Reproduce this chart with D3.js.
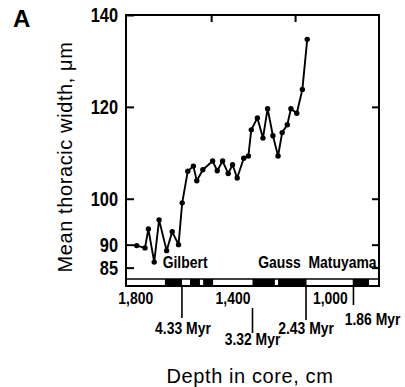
<!DOCTYPE html>
<html>
<head>
<meta charset="utf-8">
<script src="https://cdn.jsdelivr.net/npm/d3@7"></script>
<style>
  html, body { margin: 0; padding: 0; background: #fff; }
  svg { display: block; }
  .narrow { font-family: "Liberation Sans", Arial, sans-serif; font-weight: bold; }
  .title { font-family: "Liberation Sans", Arial, Helvetica, sans-serif; font-size: 20px; letter-spacing: 0.6px; }
</style>
</head>
<body>
<div id="chart"></div>
<script>
// Data
const depthCm = [1796, 1762, 1748, 1724, 1704, 1673, 1650, 1624, 1609, 1586, 1563, 1549,
  1524, 1484, 1465, 1443, 1420, 1402, 1383, 1356, 1337, 1325, 1300, 1277, 1258, 1236,
  1215, 1198, 1177, 1162, 1138, 1115, 1095];
const thoracicWidth = [89.8, 89.3, 93.4, 86.2, 95.4, 88.7, 92.8, 90.0, 99.1, 106.0, 107.1, 103.9,
  106.3, 108.2, 106.1, 108.2, 105.5, 107.4, 104.5, 108.8, 109.3, 115.0, 117.6, 113.2, 119.6, 113.7,
  109.3, 114.4, 116.1, 119.6, 118.6, 123.8, 134.7];

const yTicks = [85, 90, 100, 120, 140];
const depthTicks = [1800, 1400, 1000];
const topTicks = [1490, 1145];

// normal polarity intervals (black in the bar), [from, to] in cm
const normalChrons = [[1680, 1610], [1577, 1536], [1523, 1482], [1320, 1228], [1215, 1098], [908, 841]];
const chronNames = ["Gilbert", "Gauss", "Matuyama"];
const chronCenters = [1597, 1209, 950];

const ageDepths = [1610, 1320, 1100, 905];
const ageLabels = ["4.33 Myr", "3.32 Myr", "2.43 Myr", "1.86 Myr"];

// Chart dimensions
const w = 405, h = 387;
const frame = { left: 126, right: 379, top: 15, bottom: 286 };

const svg = d3.select("#chart").append("svg")
  .attr("width", w).attr("height", h)
  .attr("viewBox", [0, 0, w, h]);

const x = d3.scaleLinear([1840, 800], [frame.left, frame.right]);
const y = d3.scaleLinear([81, 140], [frame.bottom, frame.top]);

// polarity bar along the bottom of the frame
const barTop = 279;
svg.append("g")
  .selectAll("rect")
  .data(normalChrons)
  .join("rect")
  .attr("x", d => x(d[0]))
  .attr("width", d => x(d[1]) - x(d[0]))
  .attr("y", barTop)
  .attr("height", frame.bottom - barTop)
  .attr("fill", "#000");
svg.append("line")
  .attr("x1", frame.left).attr("x2", frame.right)
  .attr("y1", barTop).attr("y2", barTop)
  .attr("stroke", "#000").attr("stroke-width", 1.5);

// frame
svg.append("rect")
  .attr("x", frame.left).attr("y", frame.top)
  .attr("width", frame.right - frame.left)
  .attr("height", frame.bottom - frame.top)
  .attr("fill", "none").attr("stroke", "#000").attr("stroke-width", 2);

// left axis, ticks point inward
svg.append("g")
  .attr("transform", `translate(${frame.left},0)`)
  .call(d3.axisRight(y).tickValues(yTicks).tickSize(8).tickFormat(""))
  .call(g => g.select(".domain").remove())
  .call(g => g.selectAll(".tick line").attr("stroke-width", 2));
svg.append("g")
  .attr("class", "narrow")
  .selectAll("text")
  .data(yTicks)
  .join("text")
  .attr("x", frame.left - 8)
  .attr("y", d => y(d) + 7)
  .attr("text-anchor", "end")
  .attr("font-size", 20)
  .text(d => d);

// right axis ticks
svg.append("g")
  .attr("transform", `translate(${frame.right},0)`)
  .call(d3.axisLeft(y).tickValues(yTicks.filter(d => d < 140)).tickSize(7).tickFormat(""))
  .call(g => g.select(".domain").remove())
  .call(g => g.selectAll(".tick line").attr("stroke-width", 2));

// top ticks
svg.append("g")
  .attr("transform", `translate(0,${frame.top})`)
  .call(d3.axisBottom(x).tickValues(topTicks).tickSize(7).tickFormat(""))
  .call(g => g.select(".domain").remove())
  .call(g => g.selectAll(".tick line").attr("stroke-width", 2));

// depth labels under the frame
svg.append("g")
  .attr("class", "narrow")
  .selectAll("text")
  .data(depthTicks)
  .join("text")
  .attr("x", d => x(d))
  .attr("y", 304)
  .attr("text-anchor", "middle")
  .attr("font-size", 17)
  .text(d => d3.format(",")(d));

// age markers: line start/end and label baseline for each
const ageLayout = [
  { y1: frame.bottom, y2: 318, ty: 334, anchor: "middle", dx: 1 },
  { y1: 308, y2: 333, ty: 345, anchor: "middle", dx: 0 },
  { y1: frame.bottom, y2: 320, ty: 334, anchor: "middle", dx: 0 },
  { y1: frame.bottom, y2: 305, ty: 325, anchor: "end", dx: 47 }
];
const ages = svg.append("g");
ages.selectAll("line")
  .data(ageDepths)
  .join("line")
  .attr("x1", d => x(d)).attr("x2", d => x(d))
  .attr("y1", (d, i) => ageLayout[i].y1)
  .attr("y2", (d, i) => ageLayout[i].y2)
  .attr("stroke", "#000").attr("stroke-width", 1.6);
ages.selectAll("text")
  .data(ageDepths)
  .join("text")
  .attr("class", "narrow")
  .attr("x", (d, i) => x(d) + ageLayout[i].dx)
  .attr("y", (d, i) => ageLayout[i].ty)
  .attr("text-anchor", (d, i) => ageLayout[i].anchor)
  .attr("font-size", 17)
  .text((d, i) => ageLabels[i]);

// chron names above the bar
svg.append("g")
  .attr("class", "narrow")
  .selectAll("text")
  .data(chronNames)
  .join("text")
  .attr("x", (d, i) => x(chronCenters[i]))
  .attr("y", 268)
  .attr("text-anchor", "middle")
  .attr("font-size", 17)
  .text(d => d);

// no narrow font installed: squeeze the bold labels horizontally
svg.selectAll(".narrow text, text.narrow").each(function () {
  const t = d3.select(this);
  const tx = +t.attr("x"), ty = +t.attr("y");
  t.attr("x", 0).attr("y", 0)
    .attr("transform", `translate(${tx},${ty}) scale(0.82,1)`);
});

// the series
const pts = d3.zip(depthCm, thoracicWidth);
svg.append("path")
  .datum(pts)
  .attr("fill", "none")
  .attr("stroke", "#000")
  .attr("stroke-width", 1.9)
  .attr("stroke-linejoin", "round")
  .attr("d", d3.line().x(d => x(d[0])).y(d => y(d[1])));
svg.append("g")
  .selectAll("circle")
  .data(pts)
  .join("circle")
  .attr("cx", d => x(d[0]))
  .attr("cy", d => y(d[1]))
  .attr("r", 2.7)
  .attr("fill", "#000");

// axis titles
svg.append("text")
  .attr("class", "title")
  .attr("transform", "translate(72,157) rotate(-90)")
  .attr("text-anchor", "middle")
  .text("Mean thoracic width, \u03bcm");
svg.append("text")
  .attr("class", "title")
  .attr("x", 250).attr("y", 383)
  .attr("text-anchor", "middle")
  .text("Depth in core, cm");

// panel letter
svg.append("text")
  .attr("x", 13).attr("y", 27)
  .attr("font-family", "Liberation Sans, Arial, sans-serif")
  .attr("font-weight", "bold")
  .attr("font-size", 24)
  .text("A");
</script>
</body>
</html>
